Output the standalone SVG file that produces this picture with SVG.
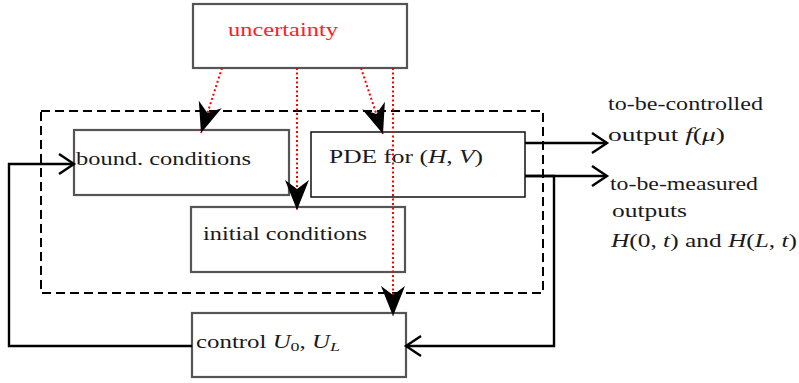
<svg xmlns="http://www.w3.org/2000/svg" width="799" height="383" viewBox="0 0 799 383">
<style>
.box{fill:#fff;stroke:#555;stroke-width:2.2}
.pde{fill:#fff;stroke:#111;stroke-width:1.5}
.red{fill:#ff2020}
.i{font-style:italic}
.conn{fill:none;stroke:#000;stroke-width:2.4}
.dot{fill:none;stroke:#f00;stroke-width:2;stroke-dasharray:2 2.5}
.dash{fill:none;stroke:#000;stroke-width:2;stroke-dasharray:9 5}
</style>
<defs>
<marker id="open" markerUnits="userSpaceOnUse" markerWidth="40" markerHeight="40" viewBox="-20 -20 40 40" refX="0" refY="0" orient="auto" overflow="visible">
<path d="M-15,-10 L0,0 L-15,10" fill="none" stroke="#000" stroke-width="2.4"/>
</marker>
<marker id="stealth" markerUnits="userSpaceOnUse" markerWidth="60" markerHeight="60" viewBox="-40 -20 60 40" refX="0" refY="0" orient="auto" overflow="visible">
<path d="M0,0 L-30,-12 L-21,0 L-30,12 Z" fill="#000"/>
</marker>
</defs>
<rect class="dash" x="41" y="111" width="502" height="182"/>
<g font-family="Liberation Serif, serif" font-size="18" fill="#1a1a1a">
<g id="uncertainty"><rect class="box" x="193" y="4" width="214" height="64"/><text class="red" x="228" y="36" textLength="110" lengthAdjust="spacingAndGlyphs">uncertainty</text></g>
<g id="bound"><rect class="box" x="74" y="130" width="215" height="65"/><text x="76" y="165" textLength="175" lengthAdjust="spacingAndGlyphs">bound. conditions</text></g>
<g id="pde"><rect class="pde" x="311" y="132" width="214" height="65"/><text x="329" y="163" textLength="154" lengthAdjust="spacingAndGlyphs">PDE for (<tspan class="i">H</tspan>, <tspan class="i">V</tspan>)</text></g>
<g id="initial"><rect class="box" x="191" y="207" width="214" height="65"/><text x="203" y="240" textLength="164" lengthAdjust="spacingAndGlyphs">initial conditions</text></g>
<g id="control"><rect class="box" x="192" y="313" width="214" height="64"/><text x="196" y="348" textLength="144" lengthAdjust="spacingAndGlyphs">control <tspan class="i">U</tspan><tspan font-size="13" dy="3">0</tspan><tspan dy="-3">, </tspan><tspan class="i">U</tspan><tspan class="i" font-size="13" dy="3">L</tspan></text></g>
<g id="outputs">
<text x="608" y="110" textLength="155" lengthAdjust="spacingAndGlyphs">to-be-controlled</text>
<text x="608" y="141" textLength="117" lengthAdjust="spacingAndGlyphs">output <tspan class="i">f</tspan>(<tspan class="i">μ</tspan>)</text>
<text x="610" y="190" textLength="148" lengthAdjust="spacingAndGlyphs">to-be-measured</text>
<text x="612" y="217" textLength="75" lengthAdjust="spacingAndGlyphs">outputs</text>
<text x="611" y="247" textLength="186" lengthAdjust="spacingAndGlyphs"><tspan class="i">H</tspan>(0, <tspan class="i">t</tspan>) and <tspan class="i">H</tspan>(<tspan class="i">L</tspan>, <tspan class="i">t</tspan>)</text>
</g>
</g>
<g id="connectors">
<path class="conn" d="M192,346 H9 V164 H74" marker-end="url(#open)"/>
<path class="conn" d="M525,176 H554 V346 H406" marker-end="url(#open)"/>
<path class="conn" d="M525,143 H607" marker-end="url(#open)"/>
<path class="conn" d="M525,176 H607" marker-end="url(#open)"/>
<path class="dot" d="M222,68 L201,133" marker-end="url(#stealth)"/>
<path class="dot" d="M297,68 V210" marker-end="url(#stealth)"/>
<path class="dot" d="M361,68 L383,134" marker-end="url(#stealth)"/>
<path class="dot" d="M393,68 V316" marker-end="url(#stealth)"/>
</g>
</svg>
